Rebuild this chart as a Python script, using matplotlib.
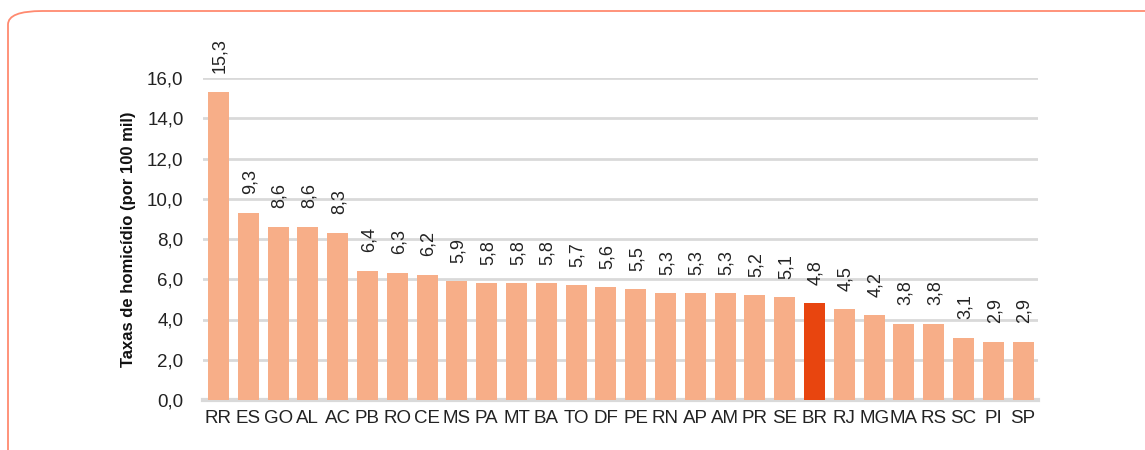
import matplotlib.pyplot as plt
from matplotlib.patches import FancyBboxPatch

plt.rcParams['font.family'] = ['Liberation Sans', 'DejaVu Sans']

estados = ['RR', 'ES', 'GO', 'AL', 'AC', 'PB', 'RO', 'CE', 'MS', 'PA', 'MT', 'BA', 'TO', 'DF',
           'PE', 'RN', 'AP', 'AM', 'PR', 'SE', 'BR', 'RJ', 'MG', 'MA', 'RS', 'SC', 'PI', 'SP']
taxas = [15.3, 9.3, 8.6, 8.6, 8.3, 6.4, 6.3, 6.2, 5.9, 5.8, 5.8, 5.8, 5.7, 5.6,
         5.5, 5.3, 5.3, 5.3, 5.2, 5.1, 4.8, 4.5, 4.2, 3.8, 3.8, 3.1, 2.9, 2.9]
yticks = [0, 2, 4, 6, 8, 10, 12, 14, 16]

cores = ['#E8450F' if e == 'BR' else '#F7AE88' for e in estados]

fig = plt.figure(figsize=(11.45, 4.5), dpi=100)
# rounded frame
frame = FancyBboxPatch((8 / 1145, -0.2), 1.2, 1 - 11 / 450 + 0.2,
                       boxstyle='round,pad=0,rounding_size=0.03',
                       transform=fig.transFigure, fill=False,
                       edgecolor='#FF8A70', linewidth=1.3)
fig.patches.append(frame)

ax = fig.add_axes([203 / 1145, 1 - 400 / 450, 835 / 1145, 322 / 450])
x = range(len(estados))
bars = ax.bar(x, taxas, width=0.7, color=cores, zorder=3)

for xi, v in zip(x, taxas):
    ax.annotate(f'{v:.1f}'.replace('.', ','), (xi, v), xytext=(1, 13.5),
                textcoords='offset points', rotation=90, ha='center', va='bottom',
                fontsize=13, color='#222222', annotation_clip=False)

ax.set_xlim(-0.52, 27.5)
ax.set_ylim(0, 16)
ax.set_yticks(yticks)
ax.set_yticklabels([f'{t:.1f}'.replace('.', ',') for t in yticks])
ax.set_xticks(list(x))
ax.set_xticklabels(estados)
ax.tick_params(axis='both', length=0, labelsize=13.5, colors='#222222')
ax.tick_params(axis='x', pad=7)
ax.tick_params(axis='y', pad=14)
ax.grid(axis='y', color='#D9D9D9', linewidth=2, zorder=0)
for s in ['top', 'right', 'left']:
    ax.spines[s].set_visible(False)
ax.spines['bottom'].set_color('#D9D9D9')
ax.spines['bottom'].set_linewidth(3)
ax.set_ylabel('Taxas de homicídio (por 100 mil)', fontsize=12, fontweight='bold',
              color='#111111', labelpad=8)

fig.savefig('out.png', dpi=100)
